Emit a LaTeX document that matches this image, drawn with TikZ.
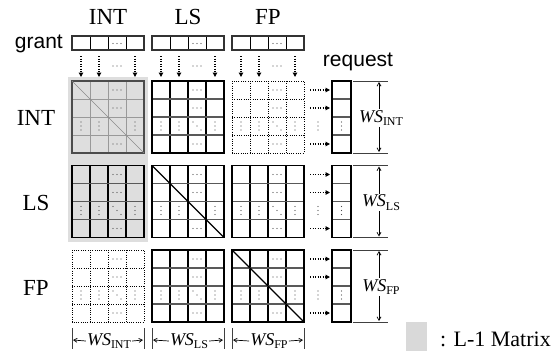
\documentclass[tikz,border=0pt]{standalone}
\usepackage{fontspec}
\setmainfont{Liberation Serif}
\newfontfamily\sansf{Liberation Sans}
\usetikzlibrary{arrows.meta}
\tikzset{
  lab/.style={font=\fontsize{23}{23}\selectfont, inner sep=0pt},
  leglab/.style={font=\fontsize{22}{22}\selectfont, inner sep=0pt},
  slab/.style={font=\sansf\fontsize{21}{21}\selectfont, inner sep=0pt},
  wslab/.style={font=\fontsize{18}{18}\selectfont, inner sep=1pt, fill=white},
  vline/.style={black, line width=1.1pt},
  hline/.style={black!65, line width=1.1pt},
  border/.style={black, line width=1.3pt},
  dline/.style={black, line width=0.9pt, dash pattern=on 1pt off 1.3pt},
  gline/.style={black!40, line width=0.9pt},
  gborder/.style={black!70, line width=1.3pt},
  dotarrow/.style={black, line width=1.1pt, dash pattern=on 1.2pt off 1.3pt, -{Triangle[length=4.5pt,width=4.5pt]}},
  dimarrow/.style={black, line width=0.7pt, -{Straight Barb[length=3.5pt,width=4pt]}},
  dimline/.style={black!75, line width=1pt},
}
\newcommand\dotsH[2]{\foreach \k in {-4,0,4}{\fill[black!70] (#1+\k,#2) circle (0.65);}}
\newcommand\dotsV[2]{\foreach \k in {-4,0,4}{\fill[black!70] (#1,#2+\k) circle (0.65);}}
\newcommand\dotsD[2]{\foreach \k in {-4,0,4}{\fill[black!70] (#1+\k,#2+\k) circle (0.65);}}
% matrix: x, y, vertical style, horizontal style, border style
\newcommand\mygrid[5]{%
  \foreach \i in {1,2,3}{\draw[#3] (#1+18*\i,#2) -- (#1+18*\i,#2+72);}
  \foreach \i in {1,2,3}{\draw[#4] (#1,#2+18*\i) -- (#1+72,#2+18*\i);}
  \draw[#5] (#1,#2) rectangle (#1+72,#2+72);
}
\newcommand\mydots[2]{%
  \dotsH{#1+45}{#2+9}\dotsH{#1+45}{#2+27}\dotsH{#1+45}{#2+63}
  \dotsV{#1+9}{#2+45}\dotsV{#1+27}{#2+45}\dotsV{#1+63}{#2+45}
}
\begin{document}
\begin{tikzpicture}[x=1pt,y=-1pt]
\useasboundingbox[fill=white] (0,0) rectangle (560,351);
% L-1 background
\fill[black!13] (68,77) rectangle (148,242);
% headers
\node[lab] (hint) at (108,17) {INT};
\node[lab] (hls) at (188,17) {LS};
\node[lab] (hfp) at (268,17) {FP};
\node[lab] (rint) at (36,118) {INT};
\node[lab] (rls) at (36,203) {LS};
\node[lab] (rfp) at (36,288) {FP};
\node[slab, anchor=east] (grant) at (63,44) {grant};
\node[slab] (request) at (358,62) {request};
% grant boxes and arrows
\foreach \c in {72,152,232}{
  \foreach \i in {1,2,3}{\draw[black, line width=1pt] (\c+18*\i,36) -- (\c+18*\i,50);}
  \draw[black!80, line width=1.2pt] (\c,36) rectangle (\c+72,50);
  \dotsH{\c+45}{43.5}
  \foreach \o in {9,27,63}{
    \coordinate (ga\c\o) at (\c+\o,56);
    \coordinate (gb\c\o) at (\c+\o,77);
    \draw[dotarrow] (ga\c\o) -- (gb\c\o);
  }
  \dotsH{\c+45}{66}
}
% matrices
% INT row
\mygrid{72}{81}{gline}{gline}{gborder}
\draw[black!45, line width=0.7pt] (72,81) -- (144,153);
\mygrid{152}{81}{vline}{hline}{border}
\mydots{152}{81}\dotsD{197}{126}
\mygrid{232}{81}{dline}{dline}{dline}
\mydots{232}{81}\dotsD{277}{126}
\mydots{72}{81}
% LS row
\mygrid{72}{165.5}{vline}{hline}{border}
\mydots{72}{165.5}\dotsD{117}{210.5}
\mygrid{152}{165.5}{vline}{hline}{border}
\draw[black, line width=1.1pt] (152,165.5) -- (224,237.5);
\mydots{152}{165.5}
\mygrid{232}{165.5}{vline}{hline}{border}
\mydots{232}{165.5}\dotsD{277}{210.5}
% FP row
\mygrid{72}{250}{dline}{dline}{dline}
\mydots{72}{250}\dotsD{117}{295}
\mygrid{152}{250}{vline}{hline}{border}
\mydots{152}{250}\dotsD{197}{295}
\mygrid{232}{250}{vline}{hline}{border}
\draw[black, line width=1.1pt] (232,250) -- (304,322);
\mydots{232}{250}
% request boxes, arrows, dimensions
\foreach \r/\s in {81/{INT},165.5/{LS},250/{FP}}{
  \foreach \i in {1,2,3}{\draw[hline] (332,\r+18*\i) -- (351,\r+18*\i);}
  \draw[border] (332,\r) rectangle (351,\r+72);
  \dotsV{341.5}{\r+45}
  \foreach \o in {9,27,63}{
    \coordinate (ra) at (310,\r+\o);
    \coordinate (rb) at (330,\r+\o);
    \draw[dotarrow] (ra) -- (rb);
  }
  \dotsV{318}{\r+45}
  \coordinate (dt1) at (353,\r);
  \coordinate (dt2) at (388,\r);
  \coordinate (db1) at (353,\r+72);
  \coordinate (db2) at (388,\r+72);
  \draw[dimline] (dt1) -- (dt2);
  \draw[dimline] (db1) -- (db2);
  \node[wslab] (ws) at (381,\r+37) {\itshape WS\raisebox{-3.5pt}{\upshape\fontsize{12}{12}\selectfont\s}};
  \coordinate (at) at (379,\r+1);
  \coordinate (ab) at (379,\r+71);
  \draw[dimarrow] (ws.north -| at) -- (at);
  \draw[dimarrow] (ws.south -| ab) -- (ab);
}
% bottom dimensions
\foreach \c/\s in {72/{INT},152/{LS},232/{FP}}{
  \coordinate (tl) at (\c,328);
  \coordinate (tl2) at (\c,349);
  \coordinate (tr) at (\c+72,328);
  \coordinate (tr2) at (\c+72,349);
  \draw[dimline] (tl) -- (tl2);
  \draw[dimline] (tr) -- (tr2);
  \node[wslab, fill=none] (bw) at (\c+37,341) {\itshape WS\raisebox{-3.5pt}{\upshape\fontsize{12}{12}\selectfont\s}};
  \draw[dimarrow] (bw.west) -- (\c+1,340);
  \draw[dimarrow] (bw.east) -- (\c+71,340);
}
% legend
\fill[black!15] (406,322) rectangle (427,351);
\node[leglab, anchor=west] (leg) at (440,339) {: L-1 Matrix};
\end{tikzpicture}
\end{document}
